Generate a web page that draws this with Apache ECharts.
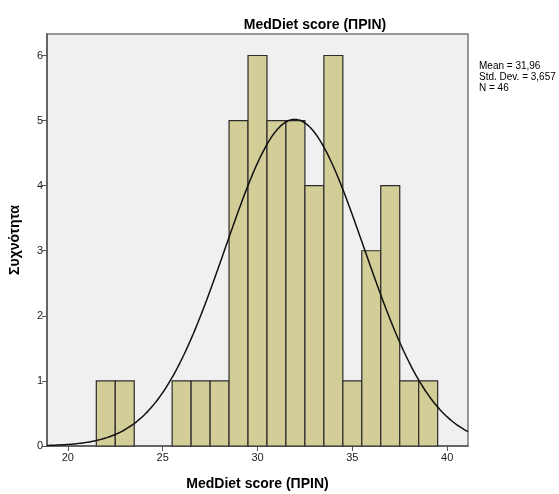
<!DOCTYPE html>
<html lang="el" style="height: 100%">
<head>
  <meta charset="utf-8">
</head>
<body style="height: 100%; margin: 0; background: #fff">
  <div id="container" style="width: 559px; height: 494px"></div>
  <script type="text/javascript" src="https://cdn.jsdelivr.net/npm/echarts@6/dist/echarts.min.js"></script>
  <script type="text/javascript">
// histogram bins (lower edge, width 1) and counts
let binStarts = [21.5, 22.5, 23.5, 24.5, 25.5, 26.5, 27.5, 28.5, 29.5, 30.5, 31.5, 32.5, 33.5, 34.5, 35.5, 36.5, 37.5, 38.5];
let counts    = [1, 1, 0, 0, 1, 1, 1, 5, 6, 5, 5, 4, 6, 1, 3, 4, 1, 1];
let binWidth = 1;
let xTicks = [20, 25, 30, 35, 40];
let yTicks = [0, 1, 2, 3, 4, 5, 6];
// summary stats shown on the chart
let mean = 31.96;
let stdDev = 3.657;
let n = 46;

var dom = document.getElementById('container');
var myChart = echarts.init(dom, null, { renderer: 'canvas' });

// fitted normal curve scaled to counts
let curve = [];
for (let x = 18.9; x <= 41.15; x += 0.1) {
    let z = (x - mean) / stdDev;
    curve.push([x, n * binWidth * Math.exp(-0.5 * z * z) / (stdDev * Math.sqrt(2 * Math.PI))]);
}

let bars = [];
binStarts.forEach(function (s, i) {
    if (counts[i] > 0) bars.push([s, s + binWidth, counts[i]]);
});

var font = '"Liberation Sans", Arial, sans-serif';

var option = {
    backgroundColor: '#ffffff',
    animation: false,
    title: [
        {
            text: 'MedDiet score (ΠΡΙΝ)',
            left: 310,
            top: 13,
            textAlign: 'center',
            textStyle: { fontFamily: font, fontSize: 14, fontWeight: 'bold', color: '#000' },
        },
        {
            text: 'Mean = ' + mean.toFixed(2).replace('.', ',') + '\nStd. Dev. = ' + stdDev.toFixed(3).replace('.', ',') + '\nN = ' + n,
            left: 474,
            top: 56,
            textStyle: { fontFamily: font, fontSize: 10, fontWeight: 'normal', color: '#000', lineHeight: 11 },
        },
    ],
    grid: {
        left: 47,
        right: 91,
        top: 34,
        bottom: 48,
        outerBoundsMode: 'none',
        containLabel: false,
        show: true,
        backgroundColor: '#f0f0f0',
        borderColor: '#777',
        borderWidth: 1.5,
    },
    xAxis: {
        type: 'value',
        min: 18.9,
        max: 41.1,
        name: 'MedDiet score (ΠΡΙΝ)',
        nameLocation: 'middle',
        nameGap: 31,
        nameTextStyle: { fontFamily: font, fontSize: 14, fontWeight: 'bold', color: '#000' },
        axisLine: { show: true, onZero: false, lineStyle: { color: '#555', width: 1.5 } },
        axisTick: { show: true, length: 5, customValues: xTicks, lineStyle: { color: '#555' } },
        axisLabel: { customValues: xTicks, fontFamily: font, fontSize: 11, color: '#222', margin: 6 },
        splitLine: { show: false },
    },
    yAxis: {
        type: 'value',
        min: 0,
        max: 6.33,
        name: 'Συχνότητα',
        nameLocation: 'middle',
        nameGap: 25,
        nameTextStyle: { fontFamily: font, fontSize: 14, fontWeight: 'bold', color: '#000' },
        axisLine: { show: true, lineStyle: { color: '#555', width: 1.5 } },
        axisTick: { show: true, length: 5, customValues: yTicks, lineStyle: { color: '#555' } },
        axisLabel: { customValues: yTicks, fontFamily: font, fontSize: 11, color: '#222', margin: 4 },
        splitLine: { show: false },
    },
    series: [
        {
            type: 'custom',
            data: bars,
            renderItem: function (params, api) {
                var p0 = api.coord([api.value(0), 0]);
                var p1 = api.coord([api.value(1), api.value(2)]);
                return {
                    type: 'rect',
                    shape: { x: p0[0], y: p1[1], width: p1[0] - p0[0], height: p0[1] - p1[1] },
                    style: { fill: '#d3ce98', stroke: '#2b2b2b', lineWidth: 1.2 },
                };
            },
            encode: { x: [0, 1], y: 2 },
            z: 2,
        },
        {
            type: 'line',
            data: curve,
            showSymbol: false,
            smooth: true,
            lineStyle: { color: '#111', width: 1.5 },
            z: 3,
        },
    ],
};

myChart.setOption(option);
window.addEventListener('resize', myChart.resize);
  </script>
</body>
</html>
